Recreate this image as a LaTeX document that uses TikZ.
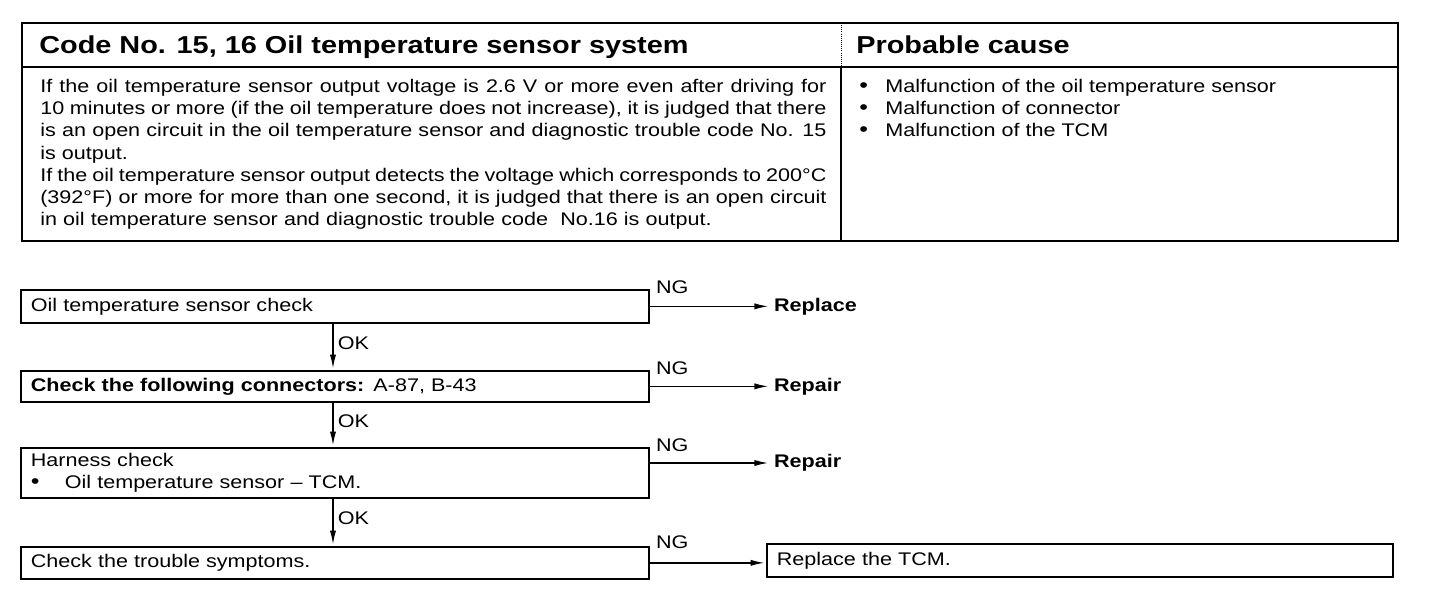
\documentclass[tikz,border=0pt]{standalone}
\usepackage{fontspec}
\setmainfont{Liberation Sans}[FakeStretch=1.18]
\usetikzlibrary{arrows.meta,positioning,calc}
\newcommand{\diagfont}{\fontsize{13}{15.83}\selectfont}
\newcommand{\jline}[1]{\makebox[19.65cm][s]{\spaceskip=0pt\xspaceskip=0pt #1}}
\newcommand{\dotmark}{{\fontsize{15}{15}\selectfont\textbullet}}
\newcommand{\causeitem}[1]{\makebox[0.65cm][l]{\dotmark}#1}

\begin{document}
\begin{tikzpicture}[x=0.025cm,y=-0.025cm,
  stepbox/.style={draw,line width=1.2pt,anchor=north west,align=left,inner xsep=0.25cm,inner ysep=0pt,text width=15.2cm,font=\diagfont},
  head/.style={anchor=base west,inner sep=0pt,font=\fontsize{17.4}{20}\selectfont\bfseries},
  res/.style={anchor=west,inner xsep=0.1cm,font=\diagfont\bfseries},
  ng/.style={anchor=base west,inner sep=0pt,font=\diagfont},
  okl/.style={right,pos=0.42,inner xsep=0.1cm,font=\diagfont},
  flow/.style={-{Latex[length=10pt,width=4.4pt]},line width=1.1pt,shorten >=1pt}]
  \useasboundingbox (0,0) rectangle (1440,594);
  % Table
  \draw[line width=1.3pt] (22,23) rectangle (1398,241);
  \draw[line width=0.9pt] (22,67) -- (1398,67);
  \draw[densely dotted,line width=0.5pt] (841,23) -- (841,67);
  \draw[line width=0.9pt] (841,67) -- (841,241);
  \node[head] (code) at (39,53) {Code No. 15, 16 Oil temperature sensor system};
  \node[head] (cause) at (856,53) {Probable cause};
  \node[anchor=north west,inner sep=0pt,text width=19.65cm,align=left,font=\diagfont] (desc) at (40,78.7)
   {\jline{If the oil temperature sensor output voltage is 2.6 V or more even after driving for}\\
    \jline{10 minutes or more (if the oil temperature does not increase), it is judged that there}\\
    \jline{is an open circuit in the oil temperature sensor and diagnostic trouble code No. 15}\\
    is output.\\
    \jline{If the oil temperature sensor output detects the voltage which corresponds to 200°C}\\
    \jline{(392°F) or more for more than one second, it is judged that there is an open circuit}\\
    in oil temperature sensor and diagnostic trouble code \ No.16 is output.};
  \node[anchor=north west,inner sep=0pt,align=left,font=\diagfont] (causes) at (859,78.7)
   {\causeitem{Malfunction of the oil temperature sensor}\\
    \causeitem{Malfunction of connector}\\
    \causeitem{Malfunction of the TCM}};
  % Flow chart
  \node[stepbox,minimum height=0.825cm] (chk1) at (20,289) {Oil temperature sensor check};
  \node[stepbox,minimum height=0.775cm] (chk2) at (20,370) {\textbf{Check the following connectors:} A-87, B-43};
  \node[stepbox,minimum height=1.25cm] (chk3) at (20,447)
   {Harness check\\\makebox[0.85cm][l]{\dotmark}Oil temperature sensor -- TCM.};
  \node[stepbox,minimum height=0.8cm] (chk4) at (20,546) {Check the trouble symptoms.};
  \node[stepbox,text width=15.15cm,minimum height=0.825cm] (tcm) at (766,543) {\raisebox{-2pt}{Replace the TCM.}};
  \node[res,right=3cm of chk1] (r1) {Replace};
  \node[res,right=3cm of chk2] (r2) {Repair};
  \node[res] (r3) at ($(chk3.north east)+(120,16)$) {Repair};
  % OK branches
  \coordinate (okx) at (333,0);
  \draw[flow] (chk1.south -| okx) -- node[okl]{OK} (chk2.north -| okx);
  \draw[flow] (chk2.south -| okx) -- node[okl]{OK} (chk3.north -| okx);
  \draw[flow] (chk3.south -| okx) -- node[okl]{OK} (chk4.north -| okx);
  % NG branches
  \draw[flow] (chk1.east) -- (r1.west);
  \draw[flow] (chk2.east) -- (r2.west);
  \draw[flow] (chk3.east |- r3) -- (r3.west);
  \draw[flow] (chk4.east) -- (chk4.east -| tcm.west);
  \node[ng] (ng1) at ($(chk1.north east)+(6,4)$) {NG};
  \node[ng] (ng2) at ($(chk2.north east)+(6,4)$) {NG};
  \node[ng] (ng3) at ($(chk3.north east)+(6,4)$) {NG};
  \node[ng] (ng4) at ($(chk4.north east)+(6,2)$) {NG};
\end{tikzpicture}
\end{document}
